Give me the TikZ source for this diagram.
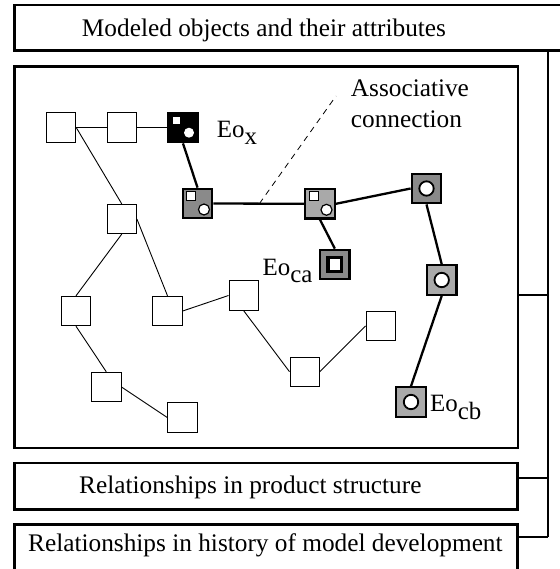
\documentclass[tikz,border=0pt]{standalone}
\usepackage{fontspec}
\setmainfont{Liberation Serif}
\usetikzlibrary{calc}
\definecolor{nodedark}{HTML}{8A8A8A}
\definecolor{nodelight}{HTML}{A9A9A9}
\tikzset{
  frame/.style={draw, rectangle, line width=2.6bp, inner sep=0pt},
  plaintext/.style={inner sep=0pt},
  obj/.style={draw, rectangle, fill=white, minimum size=29.5bp, inner sep=0pt, line width=0.9bp},
  eobj/.style={draw=black, rectangle, minimum size=29.5bp, inner sep=0pt, line width=2.3bp},
  blackobj/.style={eobj, fill=black, path picture={
      \fill[white] ([shift={(-6.3,-7.2)}]path picture bounding box.center) +(-3.7,-3.7) rectangle +(3.7,3.7);
      \fill[white] ([shift={(6,5.2)}]path picture bounding box.center) circle[radius=5];
    }},
  sqcirc/.style={eobj, fill=#1, path picture={
      \draw[fill=white, line width=1.2bp] ([shift={(-6.3,-7.5)}]path picture bounding box.center) +(-4.5,-4.5) rectangle +(4.5,4.5);
      \draw[fill=white, line width=1.2bp] ([shift={(6.5,6)}]path picture bounding box.center) circle[radius=5.5];
    }},
  ringobj/.style={eobj, fill=#1, path picture={
      \draw[fill=white, line width=1.8bp] (path picture bounding box.center) circle[radius=7.2];
    }},
  boxobj/.style={eobj, fill=#1, path picture={
      \draw[fill=white, line width=3.3bp] (path picture bounding box.center) +(-6.8,-6.8) rectangle +(6.8,6.8);
    }},
  thinedge/.style={line width=0.9bp},
  thickedge/.style={line width=2.3bp},
  assoc/.style={line width=0.8bp, dash pattern=on 6bp off 5bp},
  bracket/.style={line width=2.3bp},
  eolabel/.style={inner sep=0pt, anchor=base west, font=\fontsize{25}{30}\selectfont},
}
\newcommand{\eosub}[1]{\raisebox{-7.5bp}{#1}}
\begin{document}
\begin{tikzpicture}[x=1bp, y=-1bp, font=\fontsize{25.4}{31}\selectfont]
\useasboundingbox (0,0) rectangle (560,569);
\clip (0,0) rectangle (560,569);

% outer frames
\node[frame, minimum width=585.3bp, minimum height=45.5bp] (top) at (307.35,27.75) {};
\node[plaintext, anchor=base] (toptext) at (264,36.5) {Modeled objects and their attributes};
\node[frame, minimum width=503.3bp, minimum height=381.7bp] (main) at (266.35,257.15) {};
\node[frame, minimum width=503bp, minimum height=46.3bp] (prod) at (266.2,486.15) {};
\node[plaintext, anchor=base west] (prodtext) at (79,493.5) {Relationships in product structure};
\node[frame, minimum width=503bp, minimum height=45.5bp] (hist) at (266.2,547.25) {};
\node[plaintext, anchor=base west] (histtext) at (28,551.7) {Relationships in history of model development};

% bracket on the right
\coordinate (bt) at (547.7,50.5);
\coordinate (b1) at (547.7,295);
\coordinate (b2) at (547.7,477.7);
\coordinate (b3) at (547.7,537.3);
\draw[bracket] (bt) -- (b3);
\draw[bracket] (main.east |- b1) -- (b1);
\draw[bracket] (prod.east |- b2) -- (b2);
\draw[bracket] (hist.east |- b3) -- (b3);

% plain objects
\node[obj] (A) at (61,127.5) {};
\node[obj] (B) at (121.7,127.5) {};
\node[obj] (C) at (121.7,219) {};
\node[obj] (L) at (76,311) {};
\node[obj] (M) at (167.5,311) {};
\node[obj] (N) at (243.7,295.5) {};
\node[obj] (O) at (106.3,387) {};
\node[obj] (P) at (182.5,417.5) {};
\node[obj] (J) at (304.7,371.7) {};
\node[obj] (K) at (380.7,326) {};

% marked objects
\node[blackobj] (X) at (183,127.5) {};
\node[sqcirc=nodedark] (D) at (197.5,203.5) {};
\node[sqcirc=nodelight] (E) at (320,203.8) {};
\node[ringobj=nodedark] (F) at (426.5,188.5) {};
\node[boxobj=nodedark] (G) at (334.8,264.5) {};
\node[ringobj=nodelight] (H) at (441.7,280) {};
\node[ringobj=nodelight] (I) at (411,402) {};

% thin relations
\draw[thinedge] (A.east) -- (B.west);
\draw[thinedge] (B.east) -- (X.west);
\draw[thinedge] (A.east) -- (C.north);
\draw[thinedge] (C.south) -- (L.north);
\draw[thinedge] (C.east) -- (M.north);
\draw[thinedge] (L.south) -- (O.north);
\draw[thinedge] (O.east) -- (P.west);
\draw[thinedge] (M.east) -- (N.west);
\draw[thinedge] (N.south) -- (J.west);
\draw[thinedge] (J.east) -- (K.west);

% thick relations
\draw[thickedge] (X.south) -- (D.north);
\draw[thickedge] (D.east) -- (E.west);
\draw[thickedge] (E.east) -- (F.west);
\draw[thickedge] (E.south) -- (G.north);
\draw[thickedge] (F.south) -- (H.north);
\draw[thickedge] (H.south) -- (I.north);

% associative connection (base anchor sits on the last line)
\coordinate (assocfoot) at ($(D.east)!0.507!(E.west)$);
\coordinate (assoctip) at (336,96);
\draw[assoc] (assocfoot) -- (assoctip);
\node[plaintext, anchor=base west, align=left] (assoctext) at (350.7,127.7) {Associative\\connection};

% object labels
\node[eolabel] (lx) at (216.7,137.3) {Eo\eosub{x}};
\node[eolabel] (lca) at (262.5,275) {Eo\eosub{ca}};
\node[eolabel] (lcb) at (430,411.7) {Eo\eosub{cb}};
\end{tikzpicture}
\end{document}
